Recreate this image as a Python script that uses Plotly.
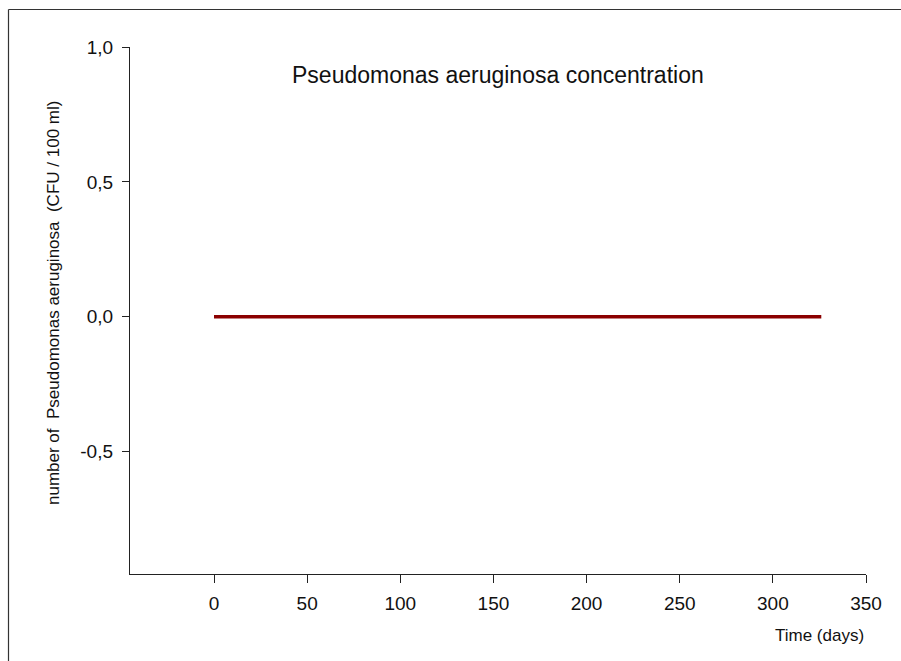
import plotly.graph_objects as go

time_days = [0, 326]
concentration = [0.0, 0.0]
x_ticks = [0, 50, 100, 150, 200, 250, 300, 350]
y_ticks = [-0.5, 0.0, 0.5, 1.0]
y_tick_labels = ["-0,5", "0,0", "0,5", "1,0"]

FONT = "Liberation Sans, Arial, sans-serif"

fig = go.Figure()
fig.add_trace(go.Scatter(
    x=time_days, y=concentration, mode="lines",
    line=dict(color="#8b0000", width=3.5),
    showlegend=False, hoverinfo="skip",
))

W, H = 901, 661
L, R, T, B = 130, 866, 47, 574


def px(xp):
    return (xp - L) / (R - L)


def py(yp):
    return (B - yp) / (B - T)


fig.update_layout(
    width=W, height=H,
    margin=dict(l=L, r=W - R, t=T, b=H - B, pad=0),
    paper_bgcolor="white", plot_bgcolor="white",
    font=dict(family=FONT, color="#111"),
    showlegend=False,
    xaxis=dict(
        range=[-45.1, 350], tickvals=x_ticks,
        showgrid=False, zeroline=False,
        showline=True, linecolor="#222", linewidth=1.3,
        ticks="outside", ticklen=8, tickcolor="#222", tickwidth=1.3,
        ticklabelstandoff=4,
        tickfont=dict(size=19, family=FONT, color="#111"),
    ),
    yaxis=dict(
        range=[-0.953, 1.0], tickvals=y_ticks, ticktext=y_tick_labels,
        showgrid=False, zeroline=False,
        showline=True, linecolor="#222", linewidth=1.3,
        ticks="outside", ticklen=7, tickcolor="#222", tickwidth=1.3,
        ticklabelstandoff=5,
        tickfont=dict(size=19, family=FONT, color="#111"),
    ),
    annotations=[
        dict(text="Pseudomonas aeruginosa concentration",
             xref="paper", yref="paper",
             x=px(498), y=py(75),
             xanchor="center", yanchor="middle", showarrow=False,
             font=dict(size=23, family=FONT, color="#111")),
        dict(text="number of  Pseudomonas aeruginosa  (CFU / 100 ml)",
             xref="paper", yref="paper",
             x=px(53), y=py(303),
             xanchor="center", yanchor="middle", textangle=-90, showarrow=False,
             font=dict(size=17, family=FONT, color="#111")),
        dict(text="Time (days)",
             xref="paper", yref="paper",
             x=px(866), y=py(635),
             xanchor="right", yanchor="middle", showarrow=False,
             font=dict(size=17, family=FONT, color="#111")),
    ],
    shapes=[
        dict(type="line", xref="paper", yref="paper",
             x0=px(8.5), x1=px(8.5), y0=py(661), y1=py(9.5),
             line=dict(color="#333", width=1.2), layer="below"),
        dict(type="line", xref="paper", yref="paper",
             x0=px(8.5), x1=px(901), y0=py(9.5), y1=py(9.5),
             line=dict(color="#333", width=1.2), layer="below"),
    ],
)

fig.write_html(
    "out.html",
    config={"displayModeBar": False},
    post_script="document.body.style.margin='0';document.body.style.overflow='hidden';",
)
